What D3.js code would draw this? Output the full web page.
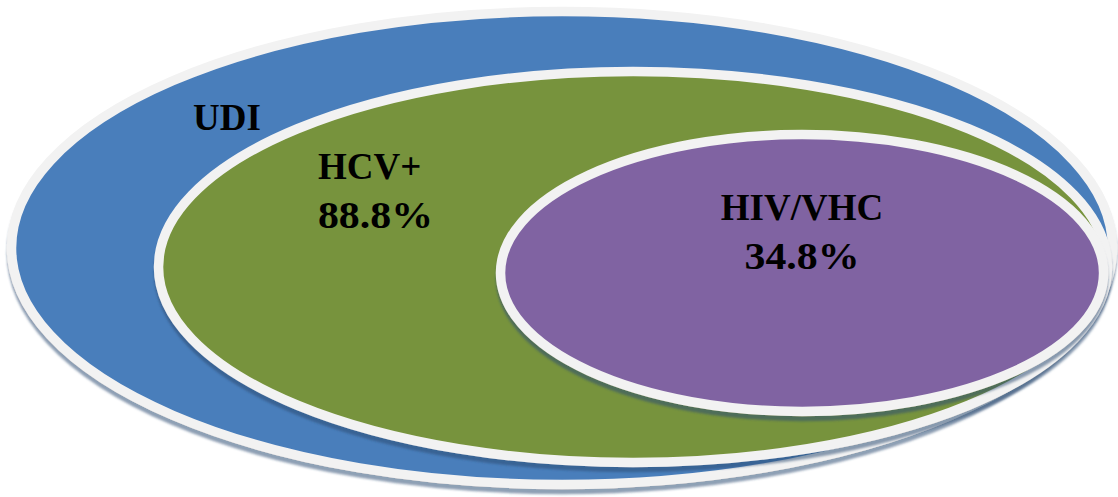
<!DOCTYPE html>
<html>
<head>
<meta charset="utf-8">
<script src="https://cdn.jsdelivr.net/npm/d3@7"></script>
<style>
  body { margin: 0; background: #fff; }
  svg { display: block; }
  .lbl { font-family: "Liberation Serif", "DejaVu Serif", serif; font-weight: bold; fill: #000; }
</style>
</head>
<body>
<div class="chart"></div>
<script>
// groupes emboites (du plus large au plus petit)
var groupes = ["UDI", "HCV+", "HIV/VHC"];
var pourcentages = [null, 88.8, 34.8];
var couleurs = ["#4a7ebb", "#77933c", "#8064a2"];

var width = 1118,
    height = 497;

// geometrie des ellipses, en fraction de la zone (cx, cy, rx, ry)
var ellipses = [
    {cx: 0.5027, cy: 0.4990, rx: 0.4924, ry: 0.4759},
    {cx: 0.5662, cy: 0.5372, rx: 0.4244, ry: 0.3934},
    {cx: 0.7174, cy: 0.5493, rx: 0.2697, ry: 0.2786}
];

// position des textes (x, y de la premiere ligne, ancrage)
var textes = [
    {x: 0.1726, y: 0.2616, anchor: "start"},
    {x: 0.2844, y: 0.3602, anchor: "start"},
    {x: 0.7174, y: 0.4427, anchor: "middle"}
];

var xScale = d3.scaleLinear().domain([0, 1]).range([0, width]);
var yScale = d3.scaleLinear().domain([0, 1]).range([0, height]);

var svg = d3.select(".chart")
    .append("svg")
    .attr("width", width)
    .attr("height", height);

// ombre portee vers le bas
var filtre = svg.append("defs").append("filter")
    .attr("id", "ombre")
    .attr("x", "-5%").attr("y", "-5%")
    .attr("width", "110%").attr("height", "115%");
filtre.append("feGaussianBlur").attr("in", "SourceAlpha").attr("stdDeviation", 0.8).attr("result", "flou");
filtre.append("feOffset").attr("in", "flou").attr("dx", 0).attr("dy", 5).attr("result", "decal");
filtre.append("feFlood").attr("flood-color", "rgb(44,75,114)").attr("flood-opacity", 0.53).attr("result", "couleur");
filtre.append("feComposite").attr("in", "couleur").attr("in2", "decal").attr("operator", "in").attr("result", "ombre");
var merge = filtre.append("feMerge");
merge.append("feMergeNode").attr("in", "ombre");
merge.append("feMergeNode").attr("in", "SourceGraphic");

svg.append("g")
    .selectAll("ellipse")
    .data(groupes)
    .enter().append("ellipse")
    .attr("cx", function (d, i) { return xScale(ellipses[i].cx); })
    .attr("cy", function (d, i) { return yScale(ellipses[i].cy); })
    .attr("rx", function (d, i) { return xScale(ellipses[i].rx); })
    .attr("ry", function (d, i) { return yScale(ellipses[i].ry); })
    .style("fill", function (d, i) { return couleurs[i]; })
    .style("stroke", "#f2f2f2")
    .style("stroke-width", 9.5)
    .attr("filter", "url(#ombre)");

var g = svg.append("g");

// nom du groupe
g.selectAll(".nom")
    .data(groupes)
    .enter().append("text")
    .attr("class", "lbl nom")
    .attr("text-anchor", function (d, i) { return textes[i].anchor; })
    .attr("x", function (d, i) { return xScale(textes[i].x); })
    .attr("y", function (d, i) { return yScale(textes[i].y); })
    .style("font-size", "37px")
    .text(function (d) { return d; });

// pourcentage, etire un peu (chiffres plus larges dans l'original)
g.selectAll(".pct")
    .data(groupes.filter(function (d, i) { return pourcentages[i] !== null; }))
    .enter().append("text")
    .attr("class", "lbl pct")
    .attr("text-anchor", function (d) { return textes[groupes.indexOf(d)].anchor; })
    .attr("x", function (d) { return xScale(textes[groupes.indexOf(d)].x); })
    .attr("y", function (d) { return yScale(textes[groupes.indexOf(d)].y) + 49; })
    .attr("textLength", 115)
    .attr("lengthAdjust", "spacingAndGlyphs")
    .style("font-size", "38px")
    .text(function (d) { return pourcentages[groupes.indexOf(d)].toFixed(1) + "%"; });
</script>
</body>
</html>
